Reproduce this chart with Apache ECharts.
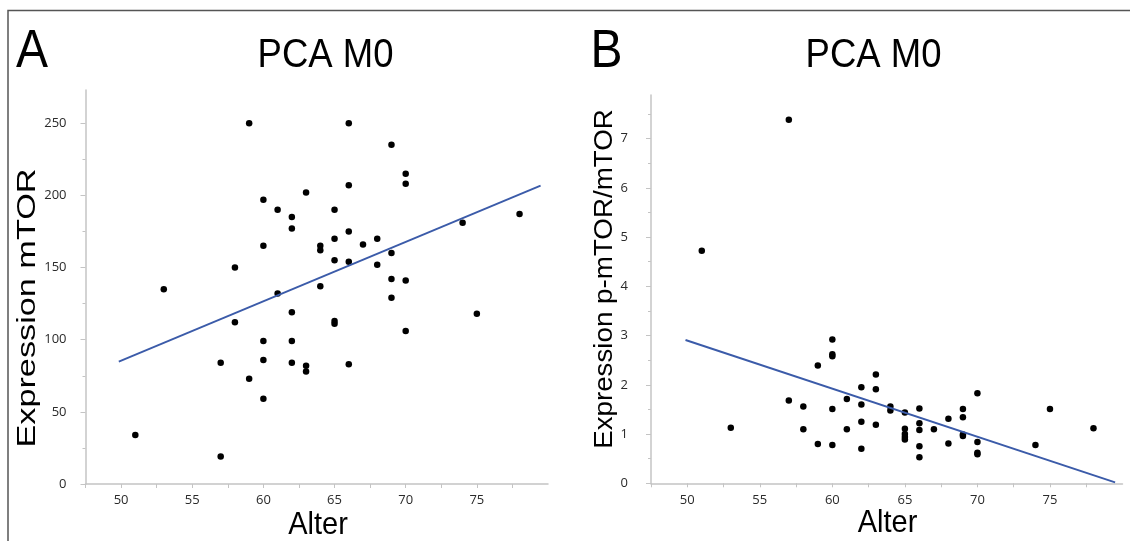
<!DOCTYPE html>
<html>
<head>
<meta charset="utf-8">
<title>PCA M0</title>
<script src="https://cdn.jsdelivr.net/npm/echarts@6/dist/echarts.min.js"></script>
<style>
  html, body { margin: 0; padding: 0; background: #fff; }
  #chart { width: 1130px; height: 541px; }
</style>
</head>
<body>
<div id="chart"></div>
<script>
// Panel A: age vs. mTOR expression
const ageA = [51,53,57,57,58,58,59,59,60,60,60,60,60,61,61,62,62,62,62,62,63,63,63,64,64,64,65,65,65,65,65,66,66,66,66,66,67,68,68,69,69,69,69,70,70,70,70,74,75,78];
const mtorA = [34,135,84,19,150,112,250,73,197,165,99,86,59,190,132,185,177,119,99,84,202,82,78,165,162,137,190,170,155,111,113,250,207,175,154,83,166,170,152,235,160,142,129,215,208,141,106,181,118,187];
const fitAgeA = [49.84, 79.48];
const fitA = [84.8, 206.7];

// Panel B: age vs. p-mTOR/mTOR ratio
const ageB = [51,53,57,57,58,58,59,59,60,60,60,60,60,61,61,62,62,62,62,63,63,63,64,64,65,65,65,65,65,66,66,66,66,66,67,68,68,69,69,69,69,70,70,70,70,74,75,78];
const ratioB = [4.72,1.13,7.38,1.68,1.56,1.10,2.39,0.80,2.92,2.62,2.58,1.51,0.78,1.71,1.10,1.95,1.60,1.25,0.70,2.21,1.91,1.19,1.56,1.48,1.44,1.11,1.00,0.94,0.89,1.52,1.22,1.08,0.75,0.53,1.10,1.31,0.81,1.51,1.34,0.99,0.96,1.83,0.84,0.62,0.59,0.78,1.51,1.12];
const fitAgeB = [49.88, 79.49];
const fitB = [2.91, 0.02];

// Tick values
const ageTicks = [47.5,50,52.5,55,57.5,60,62.5,65,67.5,70,72.5,75,77.5];
const ageLabels = [50,55,60,65,70,75];
const mtorMajor = [0,50,100,150,200,250];
const mtorMinor = [25,75,125,175,225];
const ratioMajor = [0,1,2,3,4,5,6,7];
const ratioMinor = [0.5,1.5,2.5,3.5,4.5,5.5,6.5,7.5];

const axisGray = '#c4c4c4';
const labelFont = { fontFamily: '"Open Sans", sans-serif', fontSize: 13, color: '#2a2a2a' };
const bigFont = '"Liberation Sans", Arial, sans-serif';
const fitColor = '#3b5ba9';

function pairs(xs, ys) { return xs.map((x, i) => [x, ys[i]]); }

function xAxisFor(gridIndex) {
  return {
    type: 'value', gridIndex, min: 47.5, max: 80, position: 'bottom',
    axisLine: { show: true, lineStyle: { color: axisGray, width: 1.5 } },
    axisTick: { show: true, length: 4, customValues: ageTicks, lineStyle: { color: axisGray } },
    axisLabel: Object.assign({ customValues: ageLabels, margin: 10 }, labelFont),
    splitLine: { show: false }
  };
}

function yAxisMain(gridIndex, max, major, margin) {
  return {
    type: 'value', gridIndex, min: 0, max, position: 'left',
    axisLine: { show: true, lineStyle: { color: axisGray, width: 1.5 } },
    axisTick: { show: true, length: 5, customValues: major, lineStyle: { color: axisGray } },
    axisLabel: Object.assign({ customValues: major, margin }, labelFont),
    splitLine: { show: false }
  };
}

function yAxisMinor(gridIndex, max, minor) {
  return {
    type: 'value', gridIndex, min: 0, max, position: 'left',
    axisLine: { show: false },
    axisTick: { show: true, length: 3, customValues: minor, lineStyle: { color: axisGray } },
    axisLabel: { show: false },
    splitLine: { show: false }
  };
}

function bigText(text, x, y, size, opts) {
  return Object.assign({
    type: 'text', x, y,
    style: { text, font: size + 'px ' + bigFont, fill: '#000', align: 'center', verticalAlign: 'middle' }
  }, opts || {});
}

const chart = echarts.init(document.getElementById('chart'), null, { renderer: 'canvas' });

chart.setOption({
  animation: false,
  backgroundColor: '#fff',
  grid: [
    { left: 85.5, top: 90, width: 462.5, height: 394 },
    { left: 651, top: 95, width: 471.5, height: 388.3 }
  ],
  xAxis: [xAxisFor(0), xAxisFor(1)],
  yAxis: [
    yAxisMain(0, 273, mtorMajor, 19),
    yAxisMinor(0, 273, mtorMinor),
    yAxisMain(1, 7.885, ratioMajor, 23),
    yAxisMinor(1, 7.885, ratioMinor)
  ],
  series: [
    { type: 'scatter', xAxisIndex: 0, yAxisIndex: 0, data: pairs(ageA, mtorA),
      symbol: 'circle', symbolSize: 6.5, itemStyle: { color: '#000', opacity: 1 } },
    { type: 'line', xAxisIndex: 0, yAxisIndex: 0, data: pairs(fitAgeA, fitA),
      showSymbol: false, lineStyle: { color: fitColor, width: 1.9 } },
    { type: 'scatter', xAxisIndex: 1, yAxisIndex: 2, data: pairs(ageB, ratioB),
      symbol: 'circle', symbolSize: 6.5, itemStyle: { color: '#000', opacity: 1 } },
    { type: 'line', xAxisIndex: 1, yAxisIndex: 2, data: pairs(fitAgeB, fitB),
      showSymbol: false, lineStyle: { color: fitColor, width: 1.9 } }
  ],
  graphic: [
    // frame on the top and left edges
    { type: 'polyline', shape: { points: [[8, 541], [8, 10.5], [1130, 10.5]] },
      style: { stroke: '#555', lineWidth: 1.5, fill: null } },
    // panel letters
    bigText('A', 32, 52, 48, { scaleY: 1.1 }),
    bigText('B', 606.5, 52, 48, { scaleY: 1.1 }),
    // panel titles
    bigText('PCA M0', 325.5, 55.5, 36.5, { scaleY: 1.1 }),
    bigText('PCA M0', 873.5, 55.5, 36.5, { scaleY: 1.1 }),
    // axis names
    bigText('Alter', 318, 526, 29, { scaleY: 1.05 }),
    bigText('Alter', 887.5, 524, 29, { scaleY: 1.05 }),
    bigText('Expression mTOR', 28, 308, 25, { rotation: Math.PI / 2, scaleX: 1.37 }),
    bigText('Expression p-mTOR/mTOR', 605, 279, 25, { rotation: Math.PI / 2, scaleX: 1.11 })
  ]
});
</script>
</body>
</html>
